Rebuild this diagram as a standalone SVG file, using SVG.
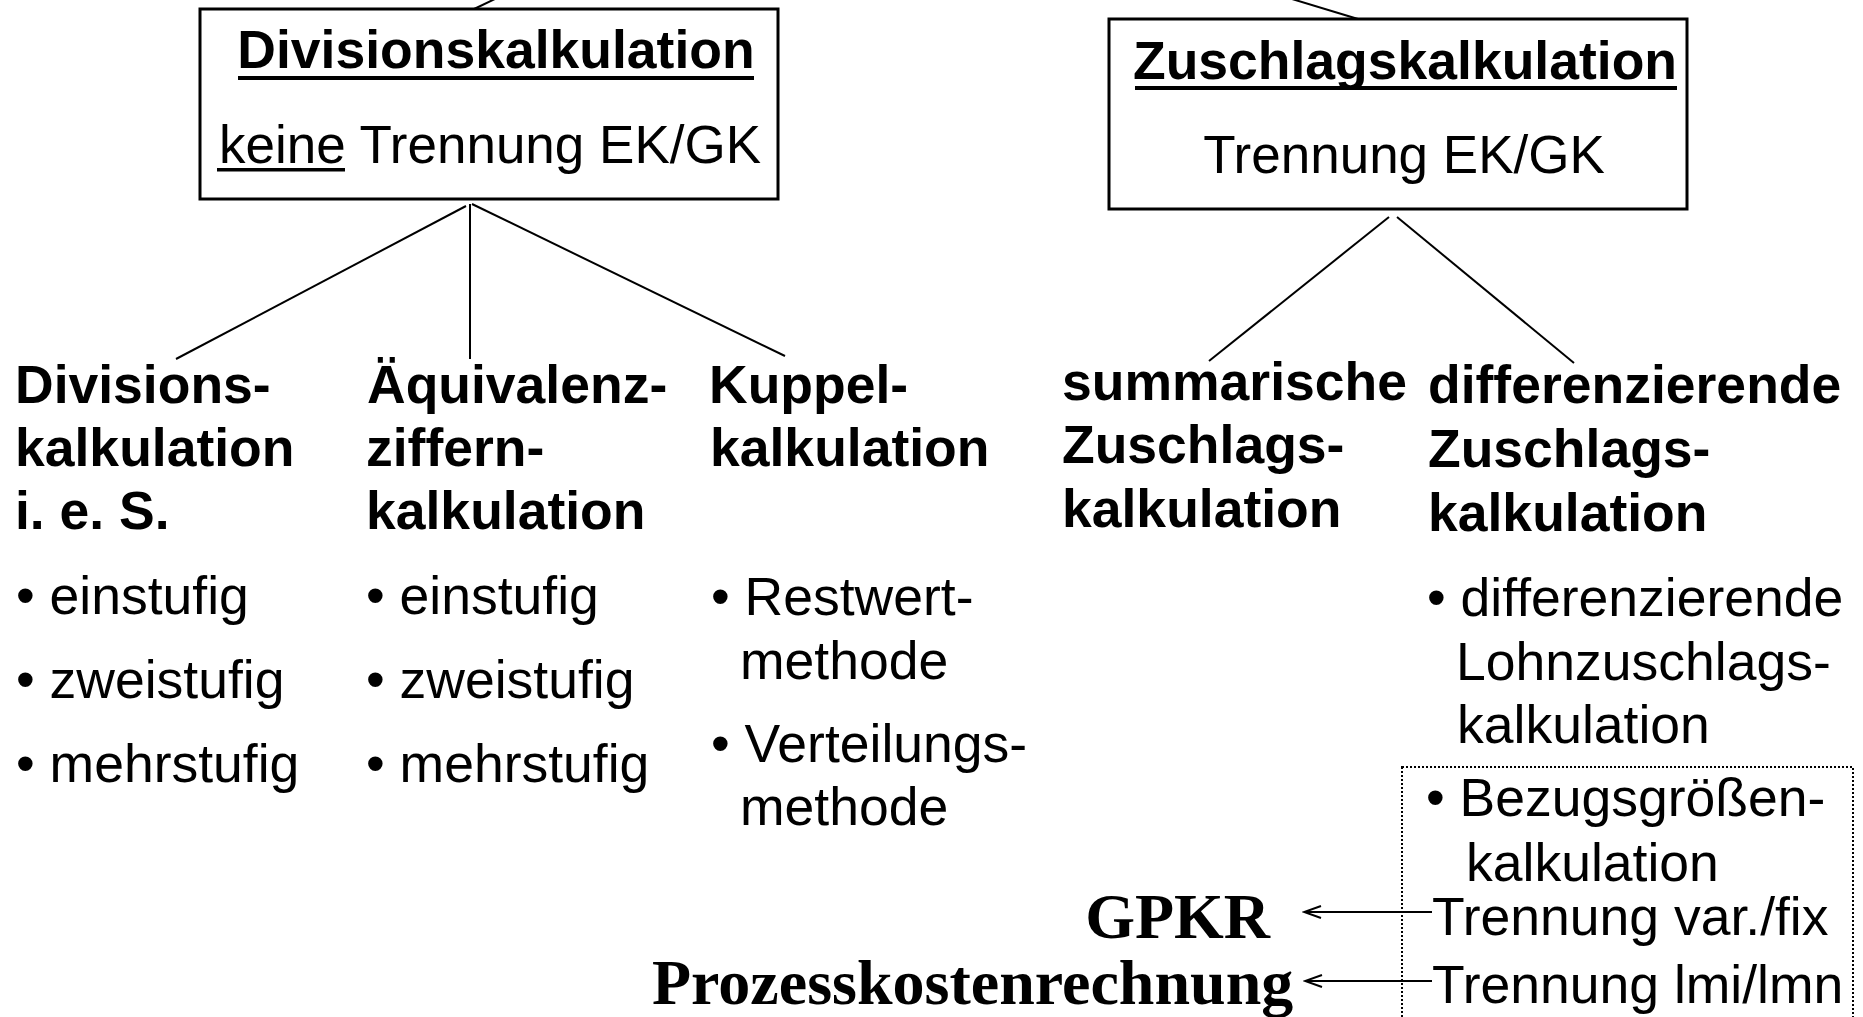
<svg xmlns="http://www.w3.org/2000/svg" width="1863" height="1017" viewBox="0 0 1863 1017">
<defs>
<style>
.b{font-family:"Liberation Sans",Arial,sans-serif;font-weight:bold;font-size:53.5px;fill:#000}
.r{font-family:"Liberation Sans",Arial,sans-serif;font-size:53.5px;fill:#000}
.h{font-family:"Liberation Sans",Arial,sans-serif;font-size:53px;fill:#000}
.t{font-family:"Liberation Serif","Times New Roman",serif;font-weight:bold;font-size:64px;fill:#000}
.box{fill:#fff;stroke:#000;stroke-width:3}
.ln{stroke:#000;stroke-width:2;fill:none}
.ul{fill:#000}
.dot{fill:none;stroke:#000;stroke-width:2;stroke-dasharray:2 2}
</style>
<marker id="ah" markerUnits="userSpaceOnUse" viewBox="-20 -10 22 20" refX="0" refY="0" markerWidth="22" markerHeight="20" orient="auto">
<path d="M-17,-6 L0,0 L-17,6" fill="none" stroke="#000" stroke-width="2"/>
</marker>
</defs>
<rect width="1863" height="1017" fill="#fff"/>

<g id="connectors">
<line class="ln" x1="472" y1="10" x2="497" y2="-2"/>
<line class="ln" x1="1358" y1="19" x2="1292" y2="-1"/>
<line class="ln" x1="466" y1="206" x2="176" y2="359"/>
<line class="ln" x1="470" y1="204" x2="470" y2="359"/>
<line class="ln" x1="472" y1="204" x2="785" y2="356"/>
<line class="ln" x1="1389" y1="217" x2="1209" y2="361"/>
<line class="ln" x1="1397" y1="217" x2="1574" y2="363"/>
<line class="ln" x1="1432" y1="912" x2="1304" y2="912" marker-end="url(#ah)"/>
<line class="ln" x1="1432" y1="981" x2="1305" y2="981" marker-end="url(#ah)"/>
</g>

<g id="divisionskalkulation">
<rect class="box" x="200" y="9" width="578" height="190"/>
<text class="b" x="496" y="68" text-anchor="middle">Divisionskalkulation</text>
<rect class="ul" x="238" y="76" width="516" height="4"/>
<text class="h" x="490" y="163" text-anchor="middle">keine Trennung EK/GK</text>
<rect class="ul" x="217" y="168" width="128" height="3.5"/>
</g>

<g id="zuschlagskalkulation">
<rect class="box" x="1109" y="19" width="578" height="190"/>
<text class="b" x="1405" y="79" text-anchor="middle">Zuschlagskalkulation</text>
<rect class="ul" x="1135" y="86" width="542" height="4"/>
<text class="h" x="1404" y="173" text-anchor="middle">Trennung EK/GK</text>
</g>

<g id="divisionskalkulation-ies">
<text class="b" x="15" y="403">Divisions-</text>
<text class="b" x="15" y="466">kalkulation</text>
<text class="b" x="15" y="529">i. e. S.</text>
<text class="r" x="16" y="614">• einstufig</text>
<text class="r" x="16" y="698">• zweistufig</text>
<text class="r" x="16" y="782">• mehrstufig</text>
</g>

<g id="aequivalenzziffernkalkulation">
<text class="b" x="367" y="403">Äquivalenz-</text>
<text class="b" x="366" y="466">ziffern-</text>
<text class="b" x="366" y="529">kalkulation</text>
<text class="r" x="366" y="614">• einstufig</text>
<text class="r" x="366" y="698">• zweistufig</text>
<text class="r" x="366" y="782">• mehrstufig</text>
</g>

<g id="kuppelkalkulation">
<text class="b" x="709" y="403">Kuppel-</text>
<text class="b" x="710" y="466">kalkulation</text>
<text class="r" x="711" y="615">• Restwert-</text>
<text class="r" x="740" y="679">methode</text>
<text class="r" x="711" y="762">• Verteilungs-</text>
<text class="r" x="740" y="825">methode</text>
</g>

<g id="summarische-zuschlagskalkulation">
<text class="b" x="1062" y="400">summarische</text>
<text class="b" x="1062" y="463">Zuschlags-</text>
<text class="b" x="1062" y="527">kalkulation</text>
</g>

<g id="differenzierende-zuschlagskalkulation">
<text class="b" x="1428" y="403">differenzierende</text>
<text class="b" x="1428" y="467">Zuschlags-</text>
<text class="b" x="1428" y="531">kalkulation</text>
<text class="r" x="1427" y="616">• differenzierende</text>
<text class="r" x="1456" y="680">Lohnzuschlags-</text>
<text class="r" x="1457" y="743">kalkulation</text>
</g>

<g id="bezugsgroessenkalkulation">
<rect class="dot" x="1402" y="767" width="451" height="300"/>
<text class="r" x="1426" y="816">• Bezugsgrößen-</text>
<text class="r" x="1466" y="881">kalkulation</text>
<text class="r" x="1432" y="935">Trennung var./fix</text>
<text class="r" x="1432" y="1003">Trennung lmi/lmn</text>
</g>

<g id="gpkr">
<text class="t" x="1270" y="938" text-anchor="end">GPKR</text>
</g>

<g id="prozesskostenrechnung">
<text class="t" x="652" y="1004">Prozesskostenrechnung</text>
</g>
</svg>
